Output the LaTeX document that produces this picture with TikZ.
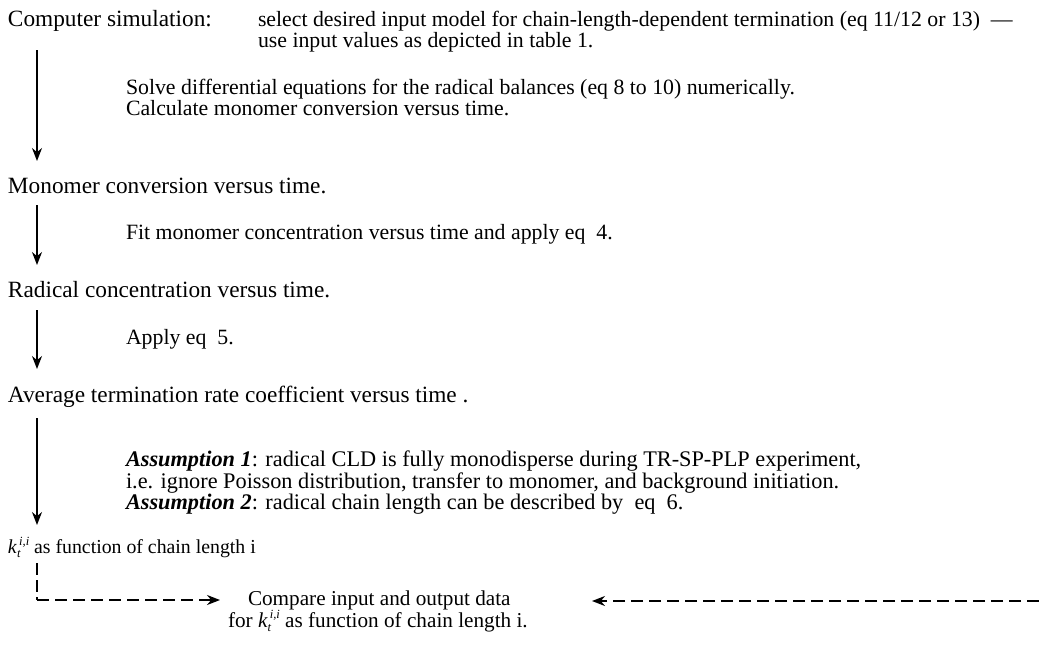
\documentclass[tikz,border=0pt]{standalone}
\usepackage{fontspec}
\setmainfont{Liberation Serif}
\usetikzlibrary{arrows.meta}
\newcommand{\ktii}{\textit{k}\makebox[0pt][l]{\raisebox{-0.45ex}{\fontsize{12.5}{13}\selectfont\textit{t}}}\raisebox{0.85ex}{\fontsize{12.5}{13}\selectfont\,\textit{i,i}}}
\tikzset{
  txt/.style={anchor=base west, inner sep=0pt, outer sep=0pt, font=\fontsize{21.8}{22}\selectfont},
  lbl/.style={txt, font=\fontsize{23.3}{24}\selectfont},
  note/.style={txt, font=\fontsize{22.3}{23}\selectfont},
  res/.style={txt, font=\fontsize{19.8}{20}\selectfont},
  cmpr/.style={txt, font=\fontsize{21.2}{22}\selectfont},
  flow/.style={line width=1.4pt, -{Stealth[length=13pt,width=10pt]}},
  dflow/.style={line width=1.8pt, dash pattern=on 12pt off 6pt, -{Stealth[length=13pt,width=10pt]}},
  dline/.style={line width=1.8pt, dash pattern=on 12pt off 5pt}
}
\begin{document}
\begin{tikzpicture}[x=1pt,y=-1pt]
\useasboundingbox (0,0) rectangle (1039,649);
% step texts
\node[lbl] (sim)   at (8,26)   {Computer simulation:};
\node[txt] (sel)   at (258,26) {select desired input model for chain-length-dependent termination (eq 11/12 or 13) \ —};
\node[txt] (use)   at (258,47) {use input values as depicted in table 1.};
\node[txt] (solve) at (126,94) {Solve differential equations for the radical balances (eq 8 to 10) numerically.};
\node[txt] (calc)  at (126,115) {Calculate monomer conversion versus time.};
\node[lbl] (mono)  at (8,193)  {Monomer conversion versus time.};
\node[txt] (fit)   at (126,239) {Fit monomer concentration versus time and apply eq \ 4.};
\node[lbl] (rad)   at (8,297)  {Radical concentration versus time.};
\node[txt] (apply) at (126,344) {Apply eq \ 5.};
\node[lbl] (avg)   at (8,402)  {Average termination rate coefficient versus time .};
\node[note] (as1)  at (126,466) {\textbf{\textit{Assumption 1}}: radical CLD is fully monodisperse during TR-SP-PLP experiment,};
\node[note] (ie)   at (126,488) {i.e. ignore Poisson distribution, transfer to monomer, and background initiation.};
\node[note] (as2)  at (126,509) {\textbf{\textit{Assumption 2}}: radical chain length can be described by \ eq \ 6.};
\node[res] (kt)    at (8,553)  {\ktii\ as function of chain length i};
\node[cmpr] (cmp)  at (248,605) {Compare input and output data};
\node[cmpr] (cmp2) at (228,627) {for \ktii\ as function of chain length i.};
% connector ends
\coordinate (a1s) at (37,50);  \coordinate (a1e) at (37,161);
\coordinate (a2s) at (37,205); \coordinate (a2e) at (37,265);
\coordinate (a3s) at (37,310); \coordinate (a3e) at (37,369);
\coordinate (a4s) at (37,418); \coordinate (a4e) at (37,525);
\coordinate (ds)  at (37,563); \coordinate (dc) at (37,600);
\coordinate (de)  at (220,600);
\coordinate (rs)  at (1039,601); \coordinate (re) at (592,601);
% connectors
\draw[flow] (a1s) -- (a1e);
\draw[flow] (a2s) -- (a2e);
\draw[flow] (a3s) -- (a3e);
\draw[flow] (a4s) -- (a4e);
\draw[dline] (ds) -- (dc);
\draw[dflow] (dc) -- (de);
\draw[dflow] (rs) -- (re);
\end{tikzpicture}
\end{document}
